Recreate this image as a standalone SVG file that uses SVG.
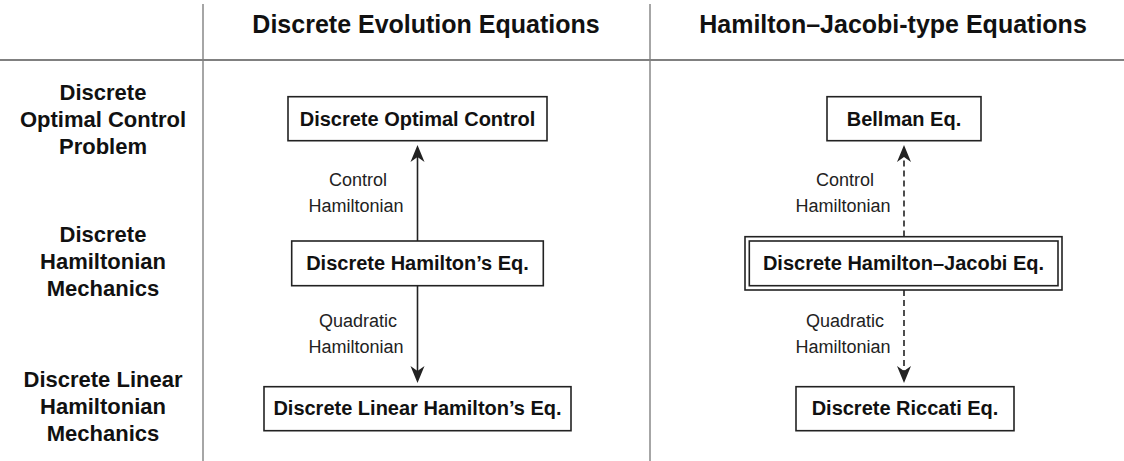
<svg xmlns="http://www.w3.org/2000/svg" width="1124" height="461" viewBox="0 0 1124 461">
  <style>
    .hdr { font-family: "Liberation Sans", Arial, sans-serif; font-weight: bold; font-size: 25px; fill: #111; text-anchor: middle; }
    .row { font-family: "Liberation Sans", Arial, sans-serif; font-weight: bold; font-size: 22px; fill: #111; text-anchor: middle; }
    .box { fill: #fff; stroke: #222; stroke-width: 1.6; }
    .ntxt { font-family: "Liberation Sans", Arial, sans-serif; font-weight: bold; font-size: 20px; fill: #111; text-anchor: middle; }
    .lbl { font-family: "Liberation Sans", Arial, sans-serif; font-size: 18px; fill: #222; text-anchor: middle; }
    .grid { stroke: #808080; fill: none; }
    .edge { stroke: #222; stroke-width: 1.6; fill: none; }
    .dash { stroke-dasharray: 6 4; }
  </style>
  <defs>
    <marker id="stealth" viewBox="-14 -8 20 16" markerWidth="20" markerHeight="16" refX="0" refY="0" orient="auto" markerUnits="userSpaceOnUse">
      <path d="M5,0 L-12,-7 L-7,0 L-12,7 Z" fill="#222" stroke="none"/>
    </marker>
  </defs>
  <rect width="1124" height="461" fill="#fff"/>

  <g id="table">
    <line class="grid" x1="203" y1="4" x2="203" y2="461" stroke-width="1.4"/>
    <line class="grid" x1="650" y1="4" x2="650" y2="461" stroke-width="1.4" stroke="#444"/>
    <line class="grid" x1="0" y1="60" x2="1124" y2="60" stroke-width="2"/>
    <text class="hdr" x="426" y="33">Discrete Evolution Equations</text>
    <text class="hdr" x="893" y="33">Hamilton–Jacobi-type Equations</text>
  </g>

  <g id="row-labels">
    <text class="row" x="103" y="100">Discrete</text>
    <text class="row" x="103" y="127">Optimal Control</text>
    <text class="row" x="103" y="154">Problem</text>
    <text class="row" x="103" y="242">Discrete</text>
    <text class="row" x="103" y="269">Hamiltonian</text>
    <text class="row" x="103" y="296">Mechanics</text>
    <text class="row" x="103" y="387">Discrete Linear</text>
    <text class="row" x="103" y="414">Hamiltonian</text>
    <text class="row" x="103" y="441">Mechanics</text>
  </g>

  <g id="connectors">
    <line class="edge" x1="417.5" y1="241" x2="417.5" y2="150" marker-end="url(#stealth)"/>
    <line class="edge" x1="417.5" y1="286" x2="417.5" y2="378" marker-end="url(#stealth)"/>
    <line class="edge dash" x1="904" y1="236.5" x2="904" y2="150" marker-end="url(#stealth)"/>
    <line class="edge dash" x1="904" y1="290" x2="904" y2="378" marker-end="url(#stealth)"/>
    <text class="lbl" x="358" y="186">Control</text>
    <text class="lbl" x="356" y="212">Hamiltonian</text>
    <text class="lbl" x="358" y="327">Quadratic</text>
    <text class="lbl" x="356" y="353">Hamiltonian</text>
    <text class="lbl" x="845" y="186">Control</text>
    <text class="lbl" x="843" y="212">Hamiltonian</text>
    <text class="lbl" x="845" y="327">Quadratic</text>
    <text class="lbl" x="843" y="353">Hamiltonian</text>
  </g>

  <g id="node-optimal-control">
    <rect class="box" x="288" y="96.7" width="259" height="44"/>
    <text class="ntxt" x="417.5" y="126">Discrete Optimal Control</text>
  </g>
  <g id="node-hamilton">
    <rect class="box" x="291.7" y="241" width="251.6" height="44.7"/>
    <text class="ntxt" x="417.5" y="270">Discrete Hamilton’s Eq.</text>
  </g>
  <g id="node-linear-hamilton">
    <rect class="box" x="264" y="386.7" width="307" height="44"/>
    <text class="ntxt" x="417.5" y="415">Discrete Linear Hamilton’s Eq.</text>
  </g>
  <g id="node-bellman">
    <rect class="box" x="827" y="96.7" width="154" height="44"/>
    <text class="ntxt" x="904" y="126">Bellman Eq.</text>
  </g>
  <g id="node-hamilton-jacobi">
    <rect class="box" x="745" y="236.7" width="317" height="53.3"/>
    <rect class="box" x="749.3" y="241" width="308.7" height="44.7"/>
    <text class="ntxt" x="903.5" y="270">Discrete Hamilton–Jacobi Eq.</text>
  </g>
  <g id="node-riccati">
    <rect class="box" x="796" y="386.7" width="218" height="44"/>
    <text class="ntxt" x="905" y="415">Discrete Riccati Eq.</text>
  </g>
</svg>
